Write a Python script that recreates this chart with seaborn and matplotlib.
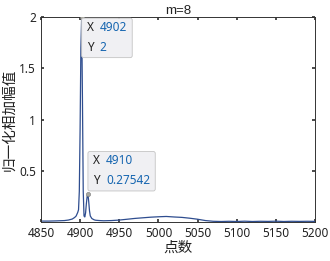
import seaborn as sns
import pandas as pd
import matplotlib.pyplot as plt
from matplotlib.patches import FancyBboxPatch
from matplotlib.transforms import Bbox

sns.set_theme(style="white")
plt.rcParams['font.family'] = ['Noto Sans', 'Noto Sans CJK SC']

# sample index and normalised summed amplitude
points = [4850, 4860, 4870, 4880, 4885, 4890, 4893, 4895, 4897, 4898, 4899, 4900,
          4901, 4902, 4903, 4904, 4905, 4906, 4907, 4908, 4909, 4910, 4911, 4912,
          4913, 4915, 4918, 4920, 4925, 4930, 4940, 4950, 4960, 4970, 4980, 4990,
          5000, 5010, 5020, 5030, 5040, 5050, 5060, 5070, 5080, 5090, 5100, 5110,
          5120, 5130, 5140, 5150, 5160, 5170, 5180, 5190, 5200]
amp = [0.010, 0.010, 0.012, 0.015, 0.020, 0.030, 0.045, 0.060, 0.095, 0.120, 0.300, 0.900,
       1.700, 2.000, 1.200, 0.300, 0.060, 0.050, 0.090, 0.180, 0.250, 0.275, 0.200, 0.110,
       0.060, 0.035, 0.022, 0.018, 0.015, 0.013, 0.015, 0.020, 0.028, 0.036, 0.042, 0.048,
       0.052, 0.055, 0.050, 0.046, 0.038, 0.028, 0.015, 0.008, 0.006, 0.008, 0.006, 0.009,
       0.006, 0.008, 0.007, 0.009, 0.006, 0.008, 0.007, 0.008, 0.007]

# data tips: x, y, shown x text, shown y text
tip_x = [4902, 4910]
tip_y = [2.0, 0.275]
tip_xs = ["4902", "4910"]
tip_ys = ["2", "0.27542"]

df = pd.DataFrame({"点数": points, "幅值": amp})

fig, ax = plt.subplots(figsize=(3.3, 2.61), dpi=100)
fig.subplots_adjust(left=0.124, right=0.955, bottom=0.149, top=0.935)
sns.lineplot(data=df, x="点数", y="幅值", ax=ax, color="#2e4d8f", linewidth=0.9)

ax.set_xlim(4850, 5200)
ax.set_ylim(0, 2)
ax.set_xticks(range(4850, 5201, 50))
ax.set_yticks([0.5, 1, 1.5, 2])
ax.set_yticklabels(["0.5", "1", "1.5", "2"])
ax.tick_params(direction="in", length=2.5, labelsize=8.5, pad=3.5, top=True, right=True,
               bottom=True, left=True, color="#333333", labelcolor="#222222")
for s in ax.spines.values():
    s.set_color("#333333")
    s.set_linewidth(0.7)
ax.set_xlabel("点数", fontsize=10.5, family=['Noto Sans CJK SC'], labelpad=0.5, color="#222222")
ax.set_ylabel("归一化相加幅值", fontsize=10.5, family=['Noto Sans CJK SC'], labelpad=2, color="#222222")
ax.set_title("m=8", fontsize=9.5, pad=2, color="#222222", family=['Liberation Sans'])

# box 1 hangs below its point, box 2 sits above its point
placements = [((3.6, -3.0), "top"), ((3.6, 5.0), "bottom")]
groups = []
for tx, ty, xs, ys, (off, va) in zip(tip_x, tip_y, tip_xs, tip_ys, placements):
    ax.plot(tx, ty, "o", ms=3, color="#a8a8a0", mec="#777777", mew=0.4, zorder=5)
    common = dict(xy=(tx, ty), textcoords="offset points", fontsize=8.5, va=va, ha="left",
                  linespacing=1.65, zorder=7)
    lab = ax.annotate("X\nY", xytext=off, color="#1f1f1f", **common)
    val = ax.annotate(f"{xs}\n{ys}", xytext=(off[0] + 9.5, off[1]), color="#1565b0", **common)
    groups.append((lab, val))

fig.canvas.draw()
r = fig.canvas.get_renderer()
for lab, val in groups:
    bb = Bbox.union([lab.get_window_extent(r), val.get_window_extent(r)])
    box = FancyBboxPatch((bb.x0 - 5, bb.y0 - 4), bb.width + 10, bb.height + 7,
                         boxstyle="round,pad=0,rounding_size=2", fc="#f0f0f3",
                         ec="#c4c4c4", lw=0.6, transform=None, zorder=6, clip_on=False)
    ax.add_patch(box)

fig.savefig("out.png", dpi=100)
